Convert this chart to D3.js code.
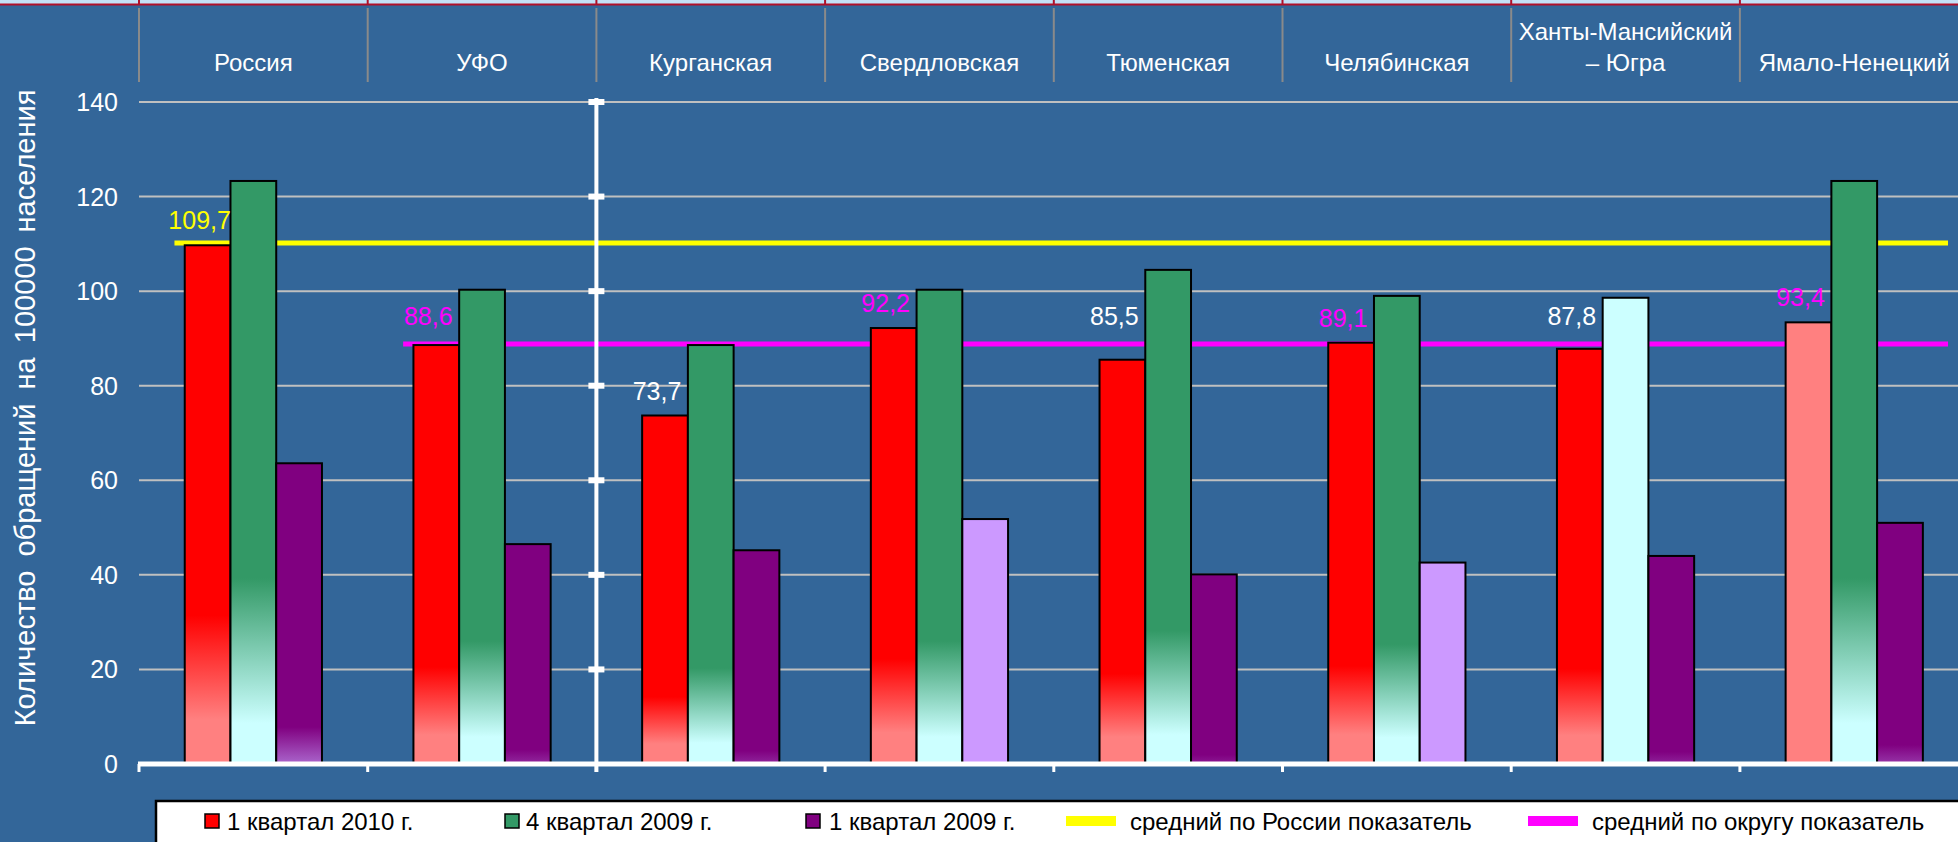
<!DOCTYPE html>
<html><head><meta charset="utf-8">
<script src="https://cdn.jsdelivr.net/npm/d3@7"></script>
<style>
html,body{margin:0;padding:0;background:#336699;overflow:hidden}
svg{display:block;font-family:"Liberation Sans",Arial,sans-serif}
</style></head>
<body><svg id="c" width="1958" height="842"></svg>
<script>
// ---- data ----
const categories = ["Россия","УФО","Курганская","Свердловская","Тюменская","Челябинская","Ханты-Мансийский – Югра","Ямало-Ненецкий"];
const categoryLines = [["Россия"],["УФО"],["Курганская"],["Свердловская"],["Тюменская"],["Челябинская"],["Ханты-Мансийский","– Югра"],["Ямало-Ненецкий"]];
const seriesNames = ["1 квартал 2010 г.","4 квартал 2009 г.","1 квартал 2009 г."];
const q1_2010 = [109.7, 88.6, 73.7, 92.2, 85.5, 89.1, 87.8, 93.4];
const q4_2009 = [123.3, 100.3, 88.6, 100.3, 104.5, 99.0, 98.6, 123.3];
const q1_2009 = [63.6, 46.5, 45.2, 51.8, 40.1, 42.6, 44.0, 51.0];
const lineNames = ["средний по России показатель","средний по округу показатель"];
const lineValues = [110.2, 88.8];
const lineStartIndex = [0, 1];
const yTicks = [0,20,40,60,80,100,120,140];
const labelTexts = ["109,7","88,6","73,7","92,2","85,5","89,1","87,8","93,4"];

// ---- styles ----
const BG = "#336699";
const seriesStyle = [
  {base:"#ff0000", light:"#ff8080", pow:2, K:1810, span:0.7, full:1},
  {base:"#339966", light:"#ccffff", pow:2, K:1830, span:0.78, full:1},
  {base:"#800080", light:"#aa66cc", pow:3, K:736000, span:1.0, full:36}
];
const lineColors = ["#ffff00","#ff00ff"];
// individually recoloured points (series index, category index) -> solid colour
const pointOverride = {"1|6":"#ccffff","0|7":"#ff8080","2|3":"#cc99ff","2|5":"#cc99ff"};

const svg = d3.select("#c");
const W = 1958, H = 842;
svg.append("rect").attr("width",W).attr("height",H).attr("fill",BG);
const defs = svg.append("defs");

const x0 = 139, step = 228.7;
const x = d3.scaleBand().domain(categories).range([x0, x0 + step*categories.length]).padding(0);
const xs = d3.scaleBand().domain([0,1,2]).range([0.2*step, 0.8*step]).padding(0);
const y = d3.scaleLinear().domain([0,140]).range([764,102]);

// top decoration strip
svg.append("rect").attr("x",0).attr("y",0).attr("width",W).attr("height",4).attr("fill","#c4e0f6");
svg.append("line").attr("x1",0).attr("x2",W).attr("y1",4.5).attr("y2",4.5).attr("stroke","#b0102a").attr("stroke-width",2);
const bounds = d3.range(categories.length+1).map(i => x0 + i*step);
svg.selectAll(".tb").data(bounds.slice(0,8)).join("line")
  .attr("x1",d=>d).attr("x2",d=>d).attr("y1",0).attr("y2",5)
  .attr("stroke","#b0102a").attr("stroke-width",2);

// header grid
svg.selectAll(".hl").data(bounds.slice(0,8)).join("line")
  .attr("x1",d=>d).attr("x2",d=>d).attr("y1",8).attr("y2",82)
  .attr("stroke","#8a8a8a").attr("stroke-width",2);
categories.forEach((c,i)=>{
  const lines = categoryLines[i];
  const cx = x(c) + step/2;
  lines.forEach((t,j)=>{
    const base = lines.length===1 ? 70.5 : 39.5 + j*31;
    svg.append("text").attr("x",cx).attr("y",base).attr("text-anchor","middle")
      .attr("fill","#fff").attr("font-size",24).text(t);
  });
});

// gridlines
svg.selectAll(".grid").data(yTicks.filter(d=>d>0)).join("line")
  .attr("x1",x0).attr("x2",W).attr("y1",d=>y(d)).attr("y2",d=>y(d))
  .attr("stroke","#c0c0c0").attr("stroke-width",2);

// y tick labels
svg.selectAll(".yl").data(yTicks).join("text")
  .attr("x",118).attr("y",d=>y(d)+9).attr("text-anchor","end")
  .attr("fill","#fff").attr("font-size",25).text(d=>d);

// y title
svg.append("text").attr("transform","translate(35,408) rotate(-90)")
  .attr("text-anchor","middle").attr("fill","#fff").attr("font-size",29)
  .attr("word-spacing",6)
  .text("Количество обращений на 100000 населения");

// average lines (behind bars)
lineValues.forEach((v,i)=>{
  svg.append("line")
    .attr("x1", x(categories[lineStartIndex[i]]) + 0.155*step)
    .attr("x2", x(categories[categories.length-1]) + 0.91*step)
    .attr("y1", y(v)).attr("y2", y(v))
    .attr("stroke", lineColors[i]).attr("stroke-width",5);
});

// bars
const series = [q1_2010, q4_2009, q1_2009];
series.forEach((vals, si)=>{
  const st = seriesStyle[si];
  vals.forEach((v, ci)=>{
    const top = y(v), h = y(0) - top;
    const key = si+"|"+ci;
    let fill;
    if (pointOverride[key]) fill = pointOverride[key];
    else {
      const id = "g"+si+"_"+ci;
      const d = Math.pow(h, st.pow)/st.K;
      const s = Math.max(0, 1 - d/h);
      const e = s + st.span*(1-s);
      const endCol = d3.interpolateRgb(st.base, st.light)(Math.min(1, d/st.full));
      const g = defs.append("linearGradient").attr("id",id)
        .attr("x1",0).attr("y1",0).attr("x2",0).attr("y2",1);
      g.append("stop").attr("offset",0).attr("stop-color",st.base);
      g.append("stop").attr("offset",s).attr("stop-color",st.base);
      g.append("stop").attr("offset",e).attr("stop-color",endCol);
      g.append("stop").attr("offset",1).attr("stop-color",endCol);
      fill = "url(#"+id+")";
    }
    svg.append("rect")
      .attr("x", x(categories[ci]) + xs(si)).attr("y", top)
      .attr("width", xs.bandwidth()).attr("height", h)
      .attr("fill", fill).attr("stroke","#000").attr("stroke-width",2);
  });
});

// white secondary vertical axis at УФО/Курганская border
const vx = bounds[2];
svg.append("line").attr("x1",vx).attr("x2",vx).attr("y1",98).attr("y2",772)
  .attr("stroke","#fff").attr("stroke-width",4);
svg.selectAll(".vt").data(yTicks.filter(d=>d>0)).join("rect")
  .attr("x",vx-8).attr("y",d=>y(d)-3).attr("width",16).attr("height",6).attr("fill","#fff");

// x axis
svg.append("line").attr("x1",x0-1).attr("x2",W).attr("y1",764).attr("y2",764)
  .attr("stroke","#fff").attr("stroke-width",5);
svg.selectAll(".xt").data(bounds).join("line")
  .attr("x1",d=>d).attr("x2",d=>d).attr("y1",764).attr("y2",772)
  .attr("stroke","#fff").attr("stroke-width",3);

// data labels for series 1
const yLineD = y(lineValues[1]);
q1_2010.forEach((v,ci)=>{
  let color;
  if (ci===0) color = lineColors[0];
  else if (ci===1 || v > q1_2010[1]) color = lineColors[1];
  else color = "#fff";
  let anchor = y(v);
  if (ci>0 && anchor - yLineD > 0 && anchor - yLineD < 30) anchor = yLineD - 3;
  svg.append("text")
    .attr("x", x(categories[ci]) + xs(0) + xs.bandwidth()/2 - 8)
    .attr("y", anchor - 16).attr("text-anchor","middle")
    .attr("fill", color).attr("font-size",25).text(labelTexts[ci]);
});

// legend
svg.append("rect").attr("x",156).attr("y",801).attr("width",W).attr("height",60)
  .attr("fill","#fff").attr("stroke","#000").attr("stroke-width",2.5);
const legItems = [
  {type:"sq", color:"#ff0000", label:seriesNames[0], mx:205, tx:227},
  {type:"sq", color:"#339966", label:seriesNames[1], mx:505, tx:526},
  {type:"sq", color:"#800080", label:seriesNames[2], mx:806, tx:829},
  {type:"ln", color:lineColors[0], label:lineNames[0], mx:1066, tx:1130},
  {type:"ln", color:lineColors[1], label:lineNames[1], mx:1528, tx:1592}
];
legItems.forEach(it=>{
  if (it.type==="sq") {
    svg.append("rect").attr("x",it.mx).attr("y",814).attr("width",14).attr("height",14)
      .attr("fill",it.color).attr("stroke","#000").attr("stroke-width",1.5);
  } else {
    svg.append("rect").attr("x",it.mx).attr("y",816).attr("width",50).attr("height",10)
      .attr("fill",it.color);
  }
  svg.append("text").attr("x",it.tx).attr("y",830).attr("fill","#000")
    .attr("font-size",24).text(it.label);
});
</script></body></html>
